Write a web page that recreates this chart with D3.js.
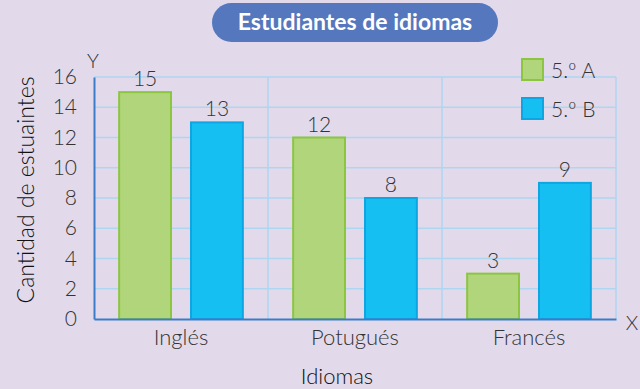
<!DOCTYPE html>
<html>
<head>
<meta charset="utf-8">
<script src="https://cdn.jsdelivr.net/npm/d3@7"></script>
<style>
  html, body { margin: 0; padding: 0; background: #e2daeb; }
  svg { display: block; font-family: Lato, "Open Sans", sans-serif; }
</style>
</head>
<body>
<svg id="chart" width="640" height="389"></svg>
<script>
// Students per language, two groups
const categories = ["Inglés", "Potugués", "Francés"];
const seriesNames = ["5.º A", "5.º B"];
const valuesA = [15, 12, 3];
const valuesB = [13, 8, 9];
const yTicks = [0, 2, 4, 6, 8, 10, 12, 14, 16];

const colors = {
  fill: ["#b1d57b", "#16bff1"],
  stroke: ["#8cc641", "#0ea6e2"]
};

(function draw() {
  const svg = d3.select("#chart");
  const W = 640, H = 389;
  const FONT = "Lato, 'Open Sans', sans-serif";
  svg.append("rect").attr("width", W).attr("height", H).attr("fill", "#e2daeb");

  const plot = { left: 94, right: 616, top: 77, bottom: 319 };

  const x = d3.scaleBand().domain(categories).range([plot.left, plot.right]).padding(0);
  const inner = d3.scaleBand().domain([0, 1]).range([0, x.bandwidth()]).paddingInner(0.278).paddingOuter(0.35);
  const y = d3.scaleLinear().domain([0, 16]).range([plot.bottom, plot.top]);

  const grid = svg.append("g");
  // horizontal grid lines
  grid.selectAll("line.h").data(yTicks.filter(d => d > 0)).join("line")
    .attr("x1", plot.left).attr("x2", plot.right)
    .attr("y1", d => y(d)).attr("y2", d => y(d))
    .attr("stroke", "#aed6f0").attr("stroke-width", 1.5);
  // vertical grid lines at band edges
  grid.selectAll("line.v").data(categories.slice(1).map(c => x(c)).concat([plot.right])).join("line")
    .attr("x1", d => d).attr("x2", d => d)
    .attr("y1", plot.top).attr("y2", plot.bottom)
    .attr("stroke", "#aed6f0").attr("stroke-width", 1.5);

  // bars
  const series = [valuesA, valuesB];
  const rows = [];
  categories.forEach((c, i) => series.forEach((s, j) => rows.push({ c, j, v: s[i] })));

  svg.append("g").selectAll("rect").data(rows).join("rect")
    .attr("x", d => x(d.c) + inner(d.j))
    .attr("width", inner.bandwidth())
    .attr("y", d => y(d.v))
    .attr("height", d => y(0) - y(d.v))
    .attr("fill", d => colors.fill[d.j])
    .attr("stroke", d => colors.stroke[d.j])
    .attr("stroke-width", 2);

  // value labels
  svg.append("g").selectAll("text").data(rows).join("text")
    .attr("x", d => x(d.c) + inner(d.j) + inner.bandwidth() / 2)
    .attr("y", d => y(d.v) - 6)
    .attr("text-anchor", "middle")
    .attr("font-size", 21).attr("font-weight", 300)
    .attr("fill", "#333")
    .text(d => d.v);

  // axes
  const yAxis = svg.append("g").attr("transform", `translate(${plot.left},0)`)
    .call(d3.axisLeft(y).tickValues(yTicks).tickSize(0).tickPadding(17));
  yAxis.select(".domain").attr("stroke", "#3a7cc9").attr("stroke-width", 2);
  yAxis.selectAll("text").attr("font-size", 21).attr("font-weight", 300)
    .attr("fill", "#333").attr("font-family", FONT);

  const xAxis = svg.append("g").attr("transform", `translate(0,${plot.bottom})`)
    .call(d3.axisBottom(x).tickSize(0).tickPadding(10));
  xAxis.select(".domain").attr("stroke", "#3a7cc9").attr("stroke-width", 2);
  xAxis.selectAll("text").attr("font-size", 22).attr("font-weight", 300)
    .attr("fill", "#333").attr("font-family", FONT);

  // axis letters
  svg.append("text").attr("x", plot.left - 1).attr("y", 68).attr("text-anchor", "middle")
    .attr("font-size", 20).attr("font-weight", 300).attr("fill", "#333").text("Y");
  svg.append("text").attr("x", 632).attr("y", 330).attr("text-anchor", "middle")
    .attr("font-size", 20).attr("font-weight", 300).attr("fill", "#333").text("X");

  // axis titles
  svg.append("text").attr("x", 337).attr("y", 384).attr("text-anchor", "middle")
    .attr("font-size", 22).attr("font-weight", 300).attr("fill", "#111").text("Idiomas");
  svg.append("text").attr("transform", "translate(34,190) rotate(-90)")
    .attr("text-anchor", "middle").attr("font-size", 23).attr("font-weight", 300).attr("fill", "#111")
    .text("Cantidad de estuaintes");

  // title pill
  svg.append("rect").attr("x", 212).attr("y", 3).attr("width", 286).attr("height", 39)
    .attr("rx", 19.5).attr("fill", "#5577bd");
  svg.append("text").attr("x", 355).attr("y", 30).attr("text-anchor", "middle")
    .attr("font-size", 23).attr("font-weight", 700).attr("fill", "#fff")
    .text("Estudiantes de idiomas");

  // legend
  const legend = svg.append("g").selectAll("g").data(seriesNames).join("g")
    .attr("transform", (d, i) => `translate(522,${59 + i * 39})`);
  legend.append("rect").attr("width", 21).attr("height", 21)
    .attr("fill", (d, i) => colors.fill[i]).attr("stroke", (d, i) => colors.stroke[i]).attr("stroke-width", 2);
  legend.append("text").attr("x", 29).attr("y", 19)
    .attr("font-size", 21).attr("font-weight", 300).attr("fill", "#333").text(d => d);
})();
</script>
</body>
</html>
